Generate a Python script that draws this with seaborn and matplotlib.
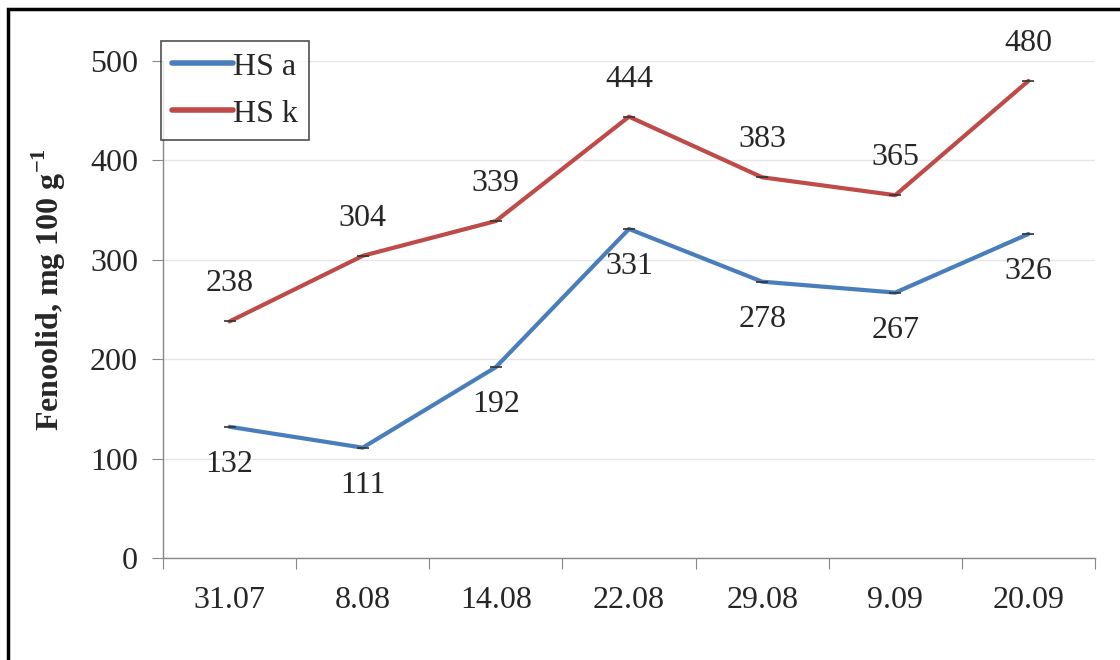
import pandas as pd
import matplotlib.pyplot as plt
import matplotlib.patches as patches
import seaborn as sns
import numpy as np

dates = ['31.07', '8.08', '14.08', '22.08', '29.08', '9.09', '20.09']
hs_a = [132, 111, 192, 331, 278, 267, 326]
hs_k = [238, 304, 339, 444, 383, 365, 480]
series_names = ['HS a', 'HS k']
colors = ['#4A7EBB', '#BE4B48']

sns.set_style('white')
plt.rcParams['font.family'] = ['Liberation Serif', 'DejaVu Serif']
plt.rcParams['mathtext.fontset'] = 'custom'
plt.rcParams['mathtext.rm'] = 'Liberation Serif'
plt.rcParams['mathtext.bf'] = 'Liberation Serif:bold'

fs = 23

frame = pd.DataFrame({'x': list(range(len(dates))) * 2,
                      'value': hs_a + hs_k,
                      'series': [series_names[0]] * len(dates) + [series_names[1]] * len(dates)})

fig = plt.figure(figsize=(11.2, 6.6), dpi=100)
ax = fig.add_axes([163 / 1120, 102 / 660, 932 / 1120, 497 / 660])

sns.lineplot(data=frame, x='x', y='value', hue='series', palette=colors,
             linewidth=3, ax=ax, legend=True)

# small caps at each point
for vals in [hs_a, hs_k]:
    ax.plot(range(len(dates)), vals, linestyle='none', marker='_',
            markersize=8, markeredgewidth=1.2, color='#333333', zorder=3)

# data labels
for i, v in enumerate(hs_a):
    ax.annotate(str(v), (i, v), xytext=(0, -27), textcoords='offset points',
                ha='center', va='center', fontsize=fs)
for i, v in enumerate(hs_k):
    ax.annotate(str(v), (i, v), xytext=(0, 27), textcoords='offset points',
                ha='center', va='center', fontsize=fs)

ax.set_ylim(0, 500)
ax.set_xlim(-0.5, len(dates) - 0.5)
ax.set_yticks(np.arange(0, 501, 100))
ax.yaxis.grid(True, color='#E6E6E6', linewidth=1)
ax.set_axisbelow(True)

ax.set_xticks(np.arange(-0.5, len(dates), 1))
ax.set_xticklabels([])
ax.set_xticks(range(len(dates)), minor=True)
ax.set_xticklabels(dates, minor=True)
ax.tick_params(axis='x', which='major', length=8, color='#888888', direction='out', bottom=True)
ax.tick_params(axis='x', which='minor', length=0, pad=20, labelsize=fs)
ax.tick_params(axis='y', length=8, color='#888888', direction='out', left=True, pad=10, labelsize=fs)

for s in ['top', 'right']:
    ax.spines[s].set_visible(False)
for s in ['left', 'bottom']:
    ax.spines[s].set_color('#888888')
    ax.spines[s].set_linewidth(1)

ax.set_xlabel('')
ax.set_ylabel('Fenoolid, mg 100 g$^{\\mathbf{-1}}$', fontsize=fs, fontweight='bold')
ax.yaxis.set_label_coords(-0.102, 0.54)

leg = ax.legend(loc='upper left', bbox_to_anchor=(-0.002, 1.04), fontsize=fs,
                frameon=True, fancybox=False, handlelength=1.9, handletextpad=0.0,
                borderpad=0.35, labelspacing=0.55, borderaxespad=0)
leg.get_frame().set_edgecolor('#222222')
leg.get_frame().set_linewidth(1.2)
for line in leg.get_lines():
    line.set_linewidth(4)

# outer border
fig.patches.append(patches.Rectangle((8 / 1120, -0.1), 1.2, 0.1 + 651 / 660,
                                     transform=fig.transFigure, fill=False,
                                     edgecolor='black', linewidth=2.5))

fig.savefig('out.png', dpi=100)
